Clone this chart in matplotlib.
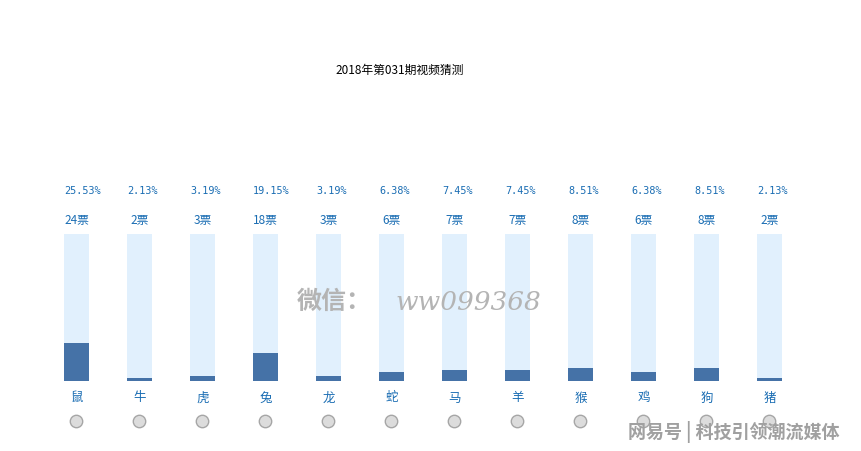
import matplotlib
matplotlib.use("Agg")
import matplotlib.pyplot as plt
import numpy as np

plt.rcParams['font.family'] = ['Noto Sans CJK SC', 'DejaVu Sans']

title = "2018年第031期视频猜测"
categories = ["鼠", "牛", "虎", "兔", "龙", "蛇", "马", "羊", "猴", "鸡", "狗", "猪"]
votes = [24, 2, 3, 18, 3, 6, 7, 7, 8, 6, 8, 2]
percents = [25.53, 2.13, 3.19, 19.15, 3.19, 6.38, 7.45, 7.45, 8.51, 6.38, 8.51, 2.13]

W, H = 862, 451
fig = plt.figure(figsize=(W / 100, H / 100), dpi=100)
fig.patch.set_facecolor("white")

# axes placed in pixel terms: bar bottom at y=381, top at y=234, first center x=76.5, spacing 63
left_px, right_px = 45, 45 + 12 * 63
bottom_px, top_px = 381, 234
ax = fig.add_axes([left_px / W, (H - bottom_px) / H, (right_px - left_px) / W, (bottom_px - top_px) / H])
ax.set_xlim(-0.5, 11.5)
ax.set_ylim(0, 100)
ax.axis("off")

x = np.arange(len(categories))
bw = 25 / 63
ax.bar(x, [100] * len(x), width=bw, color="#e1f0fd", zorder=1)
ax.bar(x, percents, width=bw, color="#4572a7", zorder=2)

tr = ax.get_xaxis_transform()
blue = "#1a6db3"
for i in range(len(x)):
    ax.text(x[i] - bw / 2, (bottom_px - 191) / 147, f"{percents[i]:.2f}%", transform=tr, ha="left", va="center",
            fontsize=7.3, color=blue, family=["DejaVu Sans Mono"], clip_on=False)
    ax.text(x[i], (bottom_px - 221) / 147, f"{votes[i]}票", transform=tr, ha="center", va="center",
            fontsize=8.5, color=blue, clip_on=False)
    ax.text(x[i], (bottom_px - 398) / 147, categories[i], transform=tr, ha="center", va="center",
            fontsize=9, color=blue, clip_on=False)

ax.scatter(x, [(bottom_px - 421) / 147] * len(x), transform=tr, s=80, marker="o",
           facecolor="#dcdcdc", edgecolor="#a6a6a6", linewidth=1.0, clip_on=False, zorder=3)

fig.text(400 / W, 1 - 70 / H, title, ha="center", va="center", fontsize=8.5, color="#000000")

# watermarks
fig.text(334 / W, 1 - 302 / H, "微信：", ha="center", va="center", fontsize=18,
         color="#b4b4b4", fontweight="bold", zorder=0)
fig.text(468 / W, 1 - 302 / H, "ww099368", ha="center", va="center", fontsize=19,
         color="#b4b4b4", family=["DejaVu Serif"], style="italic", zorder=0)
fig.text(734 / W, 1 - 432 / H, "网易号 | 科技引领潮流媒体", ha="center", va="center", fontsize=13,
         color="#a0a0a0", fontweight="bold", zorder=5)

fig.savefig("out.png", dpi=100, facecolor="white")
